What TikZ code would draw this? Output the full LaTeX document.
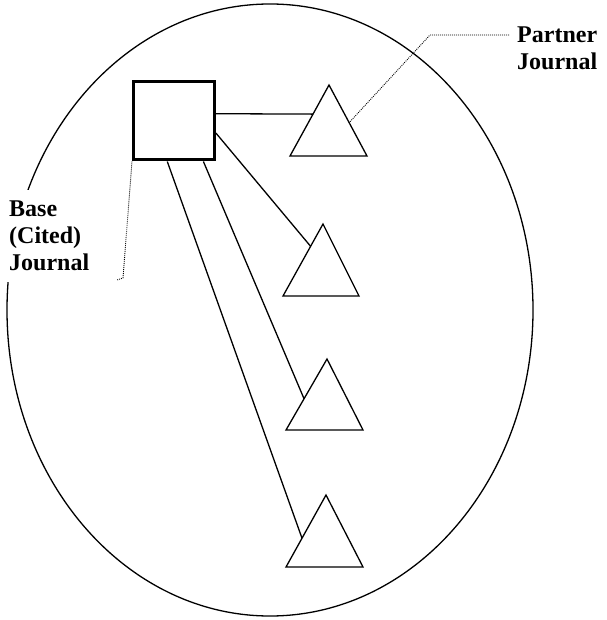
\documentclass[tikz,border=0pt]{standalone}
\usepackage{fontspec}
\setmainfont{Liberation Serif}
\usetikzlibrary{calc}
\tikzset{
  link/.style={line width=1.3pt},
  leader/.style={line width=0.9pt, dash pattern=on 0.9pt off 1.1pt},
  journal/.style={draw, line width=1.3pt, line join=miter},
  label/.style={font=\bfseries\fontsize{24}{27}\selectfont, align=left, inner sep=0pt}
}
\begin{document}
\begin{tikzpicture}[x=1pt, y=-1pt]
  \useasboundingbox (0,0) rectangle (606,620);

  % the field of journals
  \draw[line width=1.3pt] (270,310) ellipse [x radius=263pt, y radius=306pt];

  % base (cited) journal
  \node[draw, line width=3pt, minimum width=81pt, minimum height=78pt, inner sep=0pt] (base) at (174,121) {};

  % partner journals: apex, left and right base corners
  \coordinate (t1a) at (329,85);  \coordinate (t1l) at (290,156); \coordinate (t1r) at (367,156);
  \coordinate (t2a) at (323,224); \coordinate (t2l) at (283,296); \coordinate (t2r) at (359,296);
  \coordinate (t3a) at (327,359); \coordinate (t3l) at (286,430); \coordinate (t3r) at (363,430);
  \coordinate (t4a) at (326,495); \coordinate (t4l) at (286,567); \coordinate (t4r) at (363,567);
  \foreach \t in {t1,t2,t3,t4}
    \draw[journal] (\t a) -- (\t l) -- (\t r) -- cycle;

  % citation links
  \draw[link] ($(base.north east)!0.41!(base.south east)$) -- ($(t1a)!0.41!(t1l)$);
  \draw[link] ($(base.north east)!0.65!(base.south east)$) -- ($(t2a)!0.31!(t2l)$);
  \draw[link] ($(base.south west)!0.85!(base.south east)$) -- ($(t3a)!0.56!(t3l)$);
  \draw[link] ($(base.south west)!0.42!(base.south east)$) -- ($(t4a)!0.60!(t4l)$);

  % labels (the base label masks the ellipse behind it)
  \node[label, fill=white, inner xsep=3pt, inner ysep=11pt, anchor=north west] (baselbl) at (6,190) {Base\\(Cited)\\Journal};
  \node[label, anchor=north west] (partnerlbl) at (517,27) {Partner\\Journal};

  % leader lines
  \coordinate (pk) at (430,35);
  \coordinate (bk) at (123,278);
  \coordinate (bend) at (117,280);
  \draw[leader] ($(partnerlbl.north west)+(-8,8)$) -- (pk) -- ($(t1a)!0.53!(t1r)$);
  \draw[leader] (base.south west) -- (bk) -- (bend);
\end{tikzpicture}
\end{document}
